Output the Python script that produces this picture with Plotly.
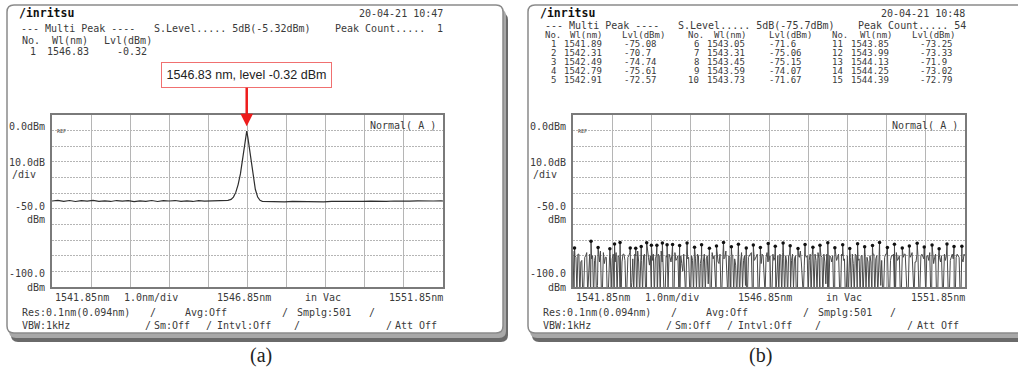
import numpy as np
import plotly.graph_objects as go

W, H = 1018, 379

# ---------------- data ----------------
wl_start, wl_center, wl_stop = 1541.85, 1546.85, 1551.85
lvl_bottom, lvl_top = -100, 10

# panel (a): single peak spectrum
a_wl = [1541.85, 1542.00, 1542.15, 1542.30, 1542.45, 1542.60, 1542.75, 1542.90, 1543.05, 1543.20,
        1543.35, 1543.50, 1543.65, 1543.80, 1543.95, 1544.10, 1544.25, 1544.40, 1544.55, 1544.70,
        1544.85, 1545.00, 1545.15, 1545.30, 1545.45, 1545.60, 1545.75, 1545.90, 1546.05, 1546.20,
        1546.35, 1546.43, 1546.49, 1546.55, 1546.61, 1546.67, 1546.73, 1546.77, 1546.80, 1546.83,
        1546.86, 1546.89, 1546.93, 1546.99, 1547.05, 1547.11, 1547.17, 1547.23, 1547.40, 1547.60,
        1547.80, 1548.00, 1548.20, 1548.40, 1548.60, 1548.80, 1549.00, 1549.20, 1549.40, 1549.60,
        1549.80, 1550.00, 1550.20, 1550.40, 1550.60, 1550.80, 1551.00, 1551.20, 1551.40, 1551.60,
        1551.80, 1551.85]
a_lvl = [-45.0, -44.6, -45.2, -44.7, -45.3, -44.8, -45.1, -44.6, -45.2, -44.9,
         -45.3, -44.7, -45.1, -44.8, -45.4, -44.9, -45.2, -44.7, -45.3, -44.8,
         -45.0, -44.7, -45.2, -44.9, -45.3, -44.8, -45.1, -44.9, -45.0, -44.8,
         -44.6, -44.0, -42.5, -39.5, -34.5, -27.5, -18.0, -10.5, -5.0, -0.32,
         -4.5, -10.0, -18.5, -29.0, -37.5, -42.5, -44.6, -45.2, -45.4, -45.3,
         -45.5, -45.3, -45.4, -45.2, -45.4, -45.5, -45.3, -45.4, -45.2, -45.4,
         -45.3, -45.1, -45.3, -45.2, -45.0, -45.2, -45.1, -44.9, -45.1, -45.0,
         -44.9, -45.0]
a_peak_no = [1]
a_peak_wl = [1546.83]
a_peak_lvl = [-0.32]
a_slevel = "5dB(-5.32dBm)"

# panel (b): noise spectrum, two interleaved sample sets read at 0.05 nm steps
b_step = 0.05
b_noise = [
    -77, -80, -103, -79, -84, -106, -81, -78, -95, -104, -80, -83, -108, -79, -77, -102, -85, -81, -104, -79,
    -82, -107, -78, -80, -100, -84, -79, -105, -81, -78, -97, -103, -80, -77, -106, -83, -80, -101, -78, -86,
    -104, -79, -82, -108, -80, -77, -99, -105, -81, -79, -84, -107, -78, -82, -102, -80, -90, -104, -79, -81,
    -106, -83, -78, -101, -80, -85, -109, -79, -82, -98, -104, -78, -80, -105, -84, -79, -100, -82, -77, -107,
    -81, -79, -103, -86, -80, -106, -78, -83, -99, -104, -80, -78, -108, -82, -79, -101, -85, -80, -105, -78,
    -83, -107, -79, -81, -96, -104, -80, -78, -106, -84, -80, -102, -79, -82, -109, -80, -77, -100, -86, -81,
    -105, -79, -80, -103, -83, -78, -107, -81, -79, -98, -105, -80, -84, -106, -78, -81, -101, -79, -83, -108,
    -80, -78, -104, -85, -79, -100, -82, -80, -107, -78, -81, -103, -84, -79, -106, -80, -78, -99, -105, -81,
    -79, -108, -83, -80, -102, -78, -82, -105, -80, -79, -97, -104, -81, -78, -107, -84, -80, -101, -79, -82,
    -106, -80, -78, -103, -85, -79, -108, -81, -80, -100, -83, -78, -105, -80, -82, -107, -79, -81, -102, -84,
    -80]
b_noise_mid = [
    -104, -81, -79, -106, -83, -100, -80, -105, -79, -82, -107, -80, -99, -84, -104, -78, -81, -106, -80, -101,
    -79, -84, -104, -81, -106, -79, -83, -100, -80, -105, -82, -79, -107, -84, -80, -103, -79, -106, -81, -80,
    -83, -105, -80, -79, -104, -84, -107, -80, -102, -81, -79, -106, -83, -80, -104, -85, -79, -107, -82, -100,
    -80, -104, -82, -79, -107, -81, -84, -103, -80, -79, -106, -82, -101, -80, -85, -104, -79, -81, -106, -80,
    -105, -80, -82, -107, -79, -84, -101, -80, -106, -81, -79, -104, -83, -80, -107, -82, -79, -103, -81, -84,
    -80, -104, -83, -106, -80, -79, -105, -82, -80, -107, -79, -83, -101, -80, -104, -81, -84, -106, -79, -80,
    -83, -106, -80, -79, -104, -82, -80, -107, -84, -79, -103, -81, -80, -105, -83, -79, -106, -80, -82, -101,
    -106, -81, -79, -104, -80, -83, -107, -80, -79, -102, -84, -80, -105, -79, -82, -106, -80, -83, -101, -79,
    -82, -105, -80, -79, -106, -83, -80, -104, -81, -79, -107, -82, -80, -103, -84, -79, -105, -80, -81, -106,
    -80, -83, -104, -79, -81, -107, -80, -84, -102, -79, -80, -106, -83, -79, -104, -81, -80, -105, -82, -79]
b_peak_no = list(range(1, 16))
b_peak_wl = [1541.89, 1542.31, 1542.49, 1542.79, 1542.91, 1543.05, 1543.31, 1543.45,
             1543.59, 1543.73, 1543.85, 1543.99, 1544.13, 1544.25, 1544.39]
b_peak_lvl = [-75.08, -70.7, -74.74, -75.61, -72.57, -71.6, -75.06, -75.15,
              -74.07, -71.67, -73.25, -73.33, -71.9, -73.02, -72.79]
b_more_wl = [1544.57, 1544.76, 1544.95, 1545.13, 1545.33, 1545.51, 1545.69, 1545.89, 1546.07, 1546.27,
             1546.45, 1546.63, 1546.83, 1547.01, 1547.21, 1547.39, 1547.59, 1547.77, 1547.97, 1548.15,
             1548.35, 1548.53, 1548.73, 1548.91, 1549.11, 1549.29, 1549.49, 1549.67, 1549.87, 1550.05,
             1550.25, 1550.43, 1550.63, 1550.81, 1551.01, 1551.19, 1551.39, 1551.57, 1551.77]
b_more_lvl = [-73.4, -71.8, -74.6, -72.9, -75.2, -73.7, -71.5, -74.3, -72.6, -75.0,
              -73.1, -74.8, -72.2, -74.0, -71.9, -73.6, -75.3, -72.8, -74.5, -73.3,
              -71.7, -74.9, -73.0, -75.4, -72.4, -74.2, -73.5, -71.6, -74.7, -72.7,
              -75.1, -73.8, -72.1, -74.4, -73.2, -75.5, -72.5, -74.1, -73.9]
b_peak_count = 54
b_slevel = "5dB(-75.7dBm)"

dates = ["20-04-21 10:47", "20-04-21 10:48"]

# ---------------- helpers ----------------
def px(x):
    return x / W

def py(y):
    return 1 - y / H

MONO = "DejaVu Sans Mono"
TXT = "#3a3a3a"
FS = 10
annots = []
shapes = []

def T(x, y, text, anchor="left", size=FS, font=MONO, color=TXT, bold=False):
    if bold:
        text = "<b>" + text + "</b>"
    annots.append(dict(x=px(x), y=py(y), xref="paper", yref="paper", text=text,
                       showarrow=False, xanchor=anchor, yanchor="middle",
                       font=dict(family=font, size=size, color=color)))

def rrect(x0, y0, x1, y1, r):
    X = lambda v: f"{px(v):.5f}"
    Y = lambda v: f"{py(v):.5f}"
    return (f"M{X(x0+r)},{Y(y0)} L{X(x1-r)},{Y(y0)} Q{X(x1)},{Y(y0)} {X(x1)},{Y(y0+r)} "
            f"L{X(x1)},{Y(y1-r)} Q{X(x1)},{Y(y1)} {X(x1-r)},{Y(y1)} "
            f"L{X(x0+r)},{Y(y1)} Q{X(x0)},{Y(y1)} {X(x0)},{Y(y1-r)} "
            f"L{X(x0)},{Y(y0+r)} Q{X(x0)},{Y(y0)} {X(x0+r)},{Y(y0)} Z")

# frames (pixel layout)
frames = [(7, 5, 503, 333), (528, 5, 1045, 333)]
for (x0, y0, x1, y1) in frames:
    shapes.append(dict(type="path", xref="paper", yref="paper", layer="below",
                       path=rrect(x0 + 4, y0 + 8, x1 + 5, y1 + 9, 7),
                       fillcolor="#6a6a6a", line=dict(width=0)))
    shapes.append(dict(type="path", xref="paper", yref="paper", layer="below",
                       path=rrect(x0 + 2, y0 + 4, x1 + 3, y1 + 5, 7),
                       fillcolor="#a8a8a8", line=dict(width=0)))
    shapes.append(dict(type="path", xref="paper", yref="paper", layer="below",
                       path=rrect(x0, y0, x1, y1, 7),
                       fillcolor="white", line=dict(color="#8a8a8a", width=1.5)))

plots = [(52, 443), (573, 965)]
PT, PB = 115, 287

fig = go.Figure()

# ---- traces ----
fig.add_trace(go.Scatter(x=a_wl, y=a_lvl, mode="lines", line=dict(color="#2e2e2e", width=1.2),
                         xaxis="x", yaxis="y", showlegend=False))

b_grid = [wl_start + b_step * i for i in range(len(b_noise))]
b_grid_mid = [wl_start + b_step * (i + 0.5) for i in range(len(b_noise_mid))]
all_x = np.array(b_grid + b_grid_mid + b_peak_wl + b_more_wl)
all_y = np.array(b_noise + b_noise_mid + b_peak_lvl + b_more_lvl)
order = np.argsort(all_x, kind="stable")
fig.add_trace(go.Scatter(x=all_x[order], y=all_y[order], mode="lines",
                         line=dict(color="#4a4a4a", width=1), xaxis="x2", yaxis="y2", showlegend=False))
fig.add_trace(go.Scatter(x=b_peak_wl + b_more_wl, y=b_peak_lvl + b_more_lvl, mode="markers",
                         marker=dict(color="#111", size=3.5), xaxis="x2", yaxis="y2", showlegend=False))

axis_common = dict(range=[wl_start, wl_stop], dtick=1.0, tick0=wl_start, showticklabels=False,
                   ticks="", showgrid=True, gridcolor="#b5b5b5", gridwidth=1, zeroline=False,
                   showline=True, linecolor="#7a7a7a", linewidth=1.5, mirror=True)
yaxis_common = dict(range=[lvl_bottom, lvl_top], dtick=10, showticklabels=False, ticks="",
                    showgrid=True, gridcolor="#b5b5b5", gridwidth=1, griddash="2px,1px",
                    zeroline=False, showline=True, linecolor="#7a7a7a", linewidth=1.5, mirror=True)

layout = dict(width=W, height=H, margin=dict(l=0, r=0, t=0, b=0),
              paper_bgcolor="white", plot_bgcolor="rgba(0,0,0,0)")
layout["xaxis"] = dict(axis_common, domain=[px(plots[0][0]), px(plots[0][1])], anchor="y")
layout["yaxis"] = dict(yaxis_common, domain=[py(PB), py(PT)], anchor="x")
layout["xaxis2"] = dict(axis_common, domain=[px(plots[1][0]), px(plots[1][1])], anchor="y2")
layout["yaxis2"] = dict(yaxis_common, domain=[py(PB), py(PT)], anchor="x2")

# ---- texts for both panels ----
for k, (pl, pr) in enumerate(plots):
    fx = frames[k][0]
    # left level labels
    T(pl - 5, 126, "0.0dBm", "right")
    T(pl + 3, 130.5, "REF", "left", size=5)
    T(pl - 5, 162, "10.0dB", "right")
    T(pl - 42, 175, "/div", "left")
    T(pl - 5, 206, "-50.0", "right")
    T(pl - 5, 219, "dBm", "right")
    T(pl - 5, 273, "-100.0", "right")
    T(pl - 5, 287, "dBm", "right")
    T(pr - 5, 125, "Normal( A )", "right")
    # bottom labels
    T(pl + 1, 297, f"{wl_start:.2f}nm", "left")
    T(pl + 70, 297, "1.0nm/div", "left")
    T(pl + 163, 297, f"{wl_center:.2f}nm", "left")
    T(pl + 251, 297, "in Vac", "left")
    T(pr + 2, 297, f"{wl_stop:.2f}nm", "right")
    T(pl - 32, 312, "Res:0.1nm(0.094nm)", "left")
    T(pl + 96, 312, "/", "left")
    T(pl + 131, 312, "Avg:Off", "left")
    T(pl + 228, 312, "/", "left")
    T(pl + 243, 312, "Smplg:501", "left")
    T(pl + 315, 312, "/", "left")
    T(pl - 32, 325, "VBW:1kHz", "left")
    T(pl + 91, 325, "/", "left")
    T(pl + 100, 325, "Sm:Off", "left")
    T(pl + 152, 325, "/", "left")
    T(pl + 163, 325, "Intvl:Off", "left")
    T(pl + 240, 325, "/", "left")
    T(pl + 332, 325, "/", "left")
    T(pr - 4, 325, "Att Off", "right")
    # header
    T(fx + 10, 13, "/inritsu", "left", size=11.5, color="#111", bold=True)
    T(pr + 2, 13, dates[k], "right")

# panel (a) header rows
T(19, 28, "--- Multi Peak ----", "left")
T(152, 28, "S.Level..... " + a_slevel, "left")
T(333, 28, "Peak Count.....", "left")
T(445, 28, str(len(a_peak_no)), "right")
T(20, 41, "No.", "left")
T(50, 41, "Wl(nm)", "left")
T(102, 41, "Lvl(dBm)", "left")
for i, (n, wl, lv) in enumerate(zip(a_peak_no, a_peak_wl, a_peak_lvl)):
    T(38, 52 + 11 * i, str(n), "right")
    T(45, 52 + 11 * i, f"{wl:.2f}", "left")
    T(115, 52 + 11 * i, f"{lv:.2f}", "left")

# panel (b) header rows
TS = 9
T(543, 25.5, "--- Multi Peak ----", "left")
T(676, 25.5, "S.Level..... " + b_slevel, "left")
T(968, 25.5, f"Peak Count..... {b_peak_count}", "right")
no_r = [558, 701, 845]
wl_l = [562, 705, 849]
lv_l = [622, 767, 918]
hd = [(543, 568, 620), (686, 712, 767), (830, 858, 910)]
for g in range(3):
    T(hd[g][0], 34.5, "No.", "left", size=TS)
    T(hd[g][1], 34.5, "Wl(nm)", "left", size=TS)
    T(hd[g][2], 34.5, "Lvl(dBm)", "left", size=TS)
for i, (n, wl, lv) in enumerate(zip(b_peak_no, b_peak_wl, b_peak_lvl)):
    g, r = divmod(i, 5)
    yy = 43.5 + 9.2 * r
    T(no_r[g], yy, str(n), "right", size=TS)
    T(wl_l[g], yy, f"{wl:.2f}", "left", size=TS)
    T(lv_l[g], yy, str(lv), "left", size=TS)

# captions
T(261, 355, "(a)", "center", size=20, font="Liberation Serif", color="#222")
T(760, 355, "(b)", "center", size=20, font="Liberation Serif", color="#222")

# red callout with arrow to the peak of (a)
annots.append(dict(x=a_peak_wl[0], y=a_peak_lvl[0], xref="x", yref="y",
                   text=f"{a_peak_wl[0]:.2f} nm, level {a_peak_lvl[0]:.2f} dBm",
                   showarrow=True, ax=0, ay=-56, arrowhead=2, arrowsize=1.0, arrowwidth=2.5,
                   arrowcolor="#ee1c1c", standoff=5,
                   bordercolor="#f07070", borderwidth=1, borderpad=3, bgcolor="white",
                   width=163, height=18,
                   font=dict(family="Liberation Sans", size=12.5, color="#222")))

layout["annotations"] = annots
layout["shapes"] = shapes
fig.update_layout(**layout)
fig.write_html("out.html")
